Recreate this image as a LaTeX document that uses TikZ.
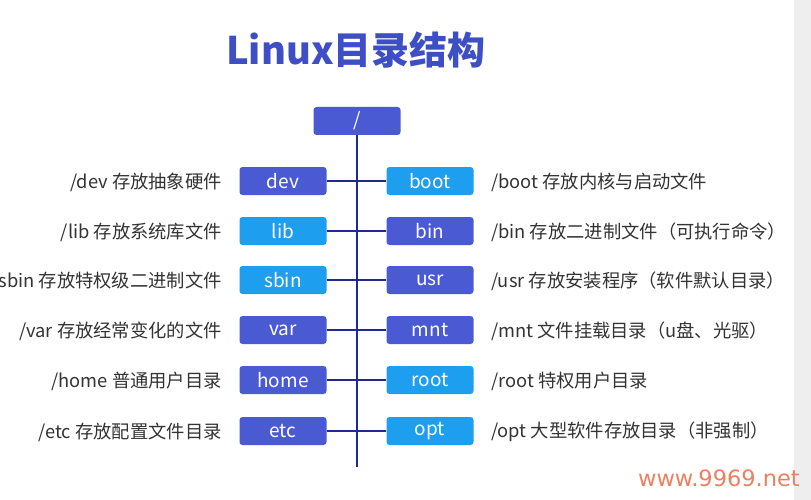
\documentclass[tikz,border=0pt]{standalone}
\usepackage{fontspec}
\setmainfont{Noto Sans CJK SC}
\newfontfamily\markfont{DejaVu Sans}
\definecolor{dirdark}{HTML}{4A5AD3}
\definecolor{dirlight}{HTML}{1E9EEF}
\definecolor{trunk}{HTML}{1F2A8C}
\definecolor{headblue}{HTML}{3E4FC6}
\definecolor{notegray}{HTML}{333333}
\definecolor{stripe}{HTML}{EEEEEE}
\definecolor{markred}{HTML}{EE7F60}

\begin{document}
\begin{tikzpicture}
  [x=1pt,y=-1pt,
   dark/.style={rounded corners=3pt,fill=dirdark,text=white,minimum width=87pt,minimum height=28pt,inner sep=0pt,font=\fontsize{19}{19}\selectfont},
   light/.style={dark,fill=dirlight},
   noteleft/.style={anchor=east,text=notegray,inner sep=0pt,font=\fontsize{18.3}{19}\selectfont},
   noteright/.style={noteleft,anchor=west}]
  \useasboundingbox (0,0) rectangle (811,500);
  \fill[white] (0,0) rectangle (811,500);
  \fill[stripe] (794,0) rectangle (811,500);

  \node[text=headblue,font=\fontsize{38}{40}\selectfont\bfseries] (title) at (356,50) {Linux目录结构};

  \node[dark] (root) at (357,121) {/};
  \coordinate (tail) at (357,467);

  \node[dark]  (dev)  at (283,181) {dev};
  \node[light] (lib)  at (283,231) {lib};
  \node[light] (sbin) at (283,280) {sbin};
  \node[dark]  (var)  at (283,330) {var};
  \node[dark]  (home) at (283,380) {home};
  \node[dark]  (etc)  at (283,431) {etc};

  \node[light] (boot) at (430,181) {boot};
  \node[dark]  (bin)  at (430,231) {bin};
  \node[dark]  (usr)  at (430,280) {usr};
  \node[dark]  (mnt)  at (430,330) {mnt};
  \node[light] (rootd) at (430,380) {root};
  \node[light] (opt)  at (430,431) {opt};

  \path[draw,trunk,line width=1.7pt]
        (root) edge (tail)
        (dev) edge (boot)
        (lib) edge (bin)
        (sbin) edge (usr)
        (var) edge (mnt)
        (home) edge (rootd)
        (etc) edge (opt);

  \node[noteleft] (tdev)  at (222,182) {/dev 存放抽象硬件};
  \node[noteleft] (tlib)  at (222,232) {/lib 存放系统库文件};
  \node[noteleft] (tsbin) at (222,281) {/sbin 存放特权级二进制文件};
  \node[noteleft] (tvar)  at (222,331) {/var 存放经常变化的文件};
  \node[noteleft] (thome) at (222,381) {/home 普通用户目录};
  \node[noteleft] (tetc)  at (222,432) {/etc 存放配置文件目录};

  \node[noteright] (tboot) at (491,182) {/boot 存放内核与启动文件};
  \node[noteright] (tbin)  at (491,232) {/bin 存放二进制文件（可执行命令）};
  \node[noteright] (tusr)  at (491,281) {/usr 存放安装程序（软件默认目录）};
  \node[noteright] (tmnt)  at (491,331) {/mnt 文件挂载目录（u盘、光驱）};
  \node[noteright] (troot) at (491,381) {/root 特权用户目录};
  \node[noteright] (topt)  at (491,432) {/opt 大型软件存放目录（非强制）};

  \node[text=markred,anchor=east,inner sep=0pt,font=\markfont\fontsize{22.5}{23}\selectfont] (mark) at (800,478) {www.9969.net};

\end{tikzpicture}
\end{document}
